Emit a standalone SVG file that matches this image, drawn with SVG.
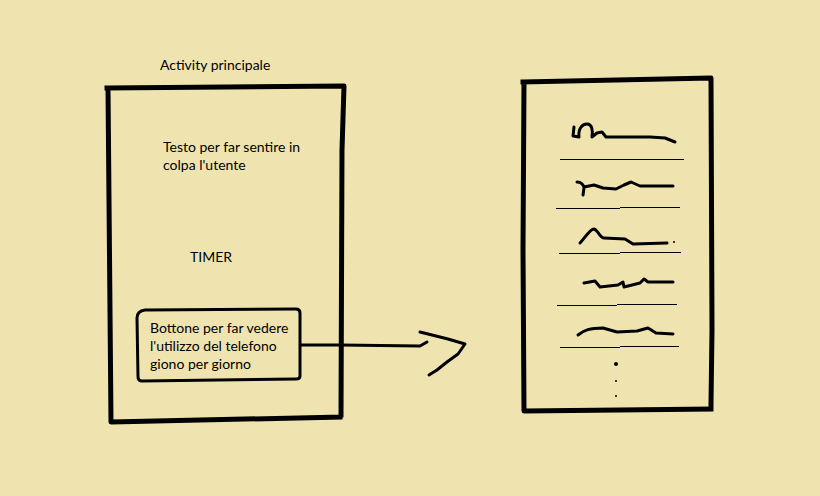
<svg xmlns="http://www.w3.org/2000/svg" width="820" height="496" viewBox="0 0 820 496">
<style>
.t{font-family:Lato,"Open Sans","Liberation Sans",sans-serif;font-size:14px;fill:#000}
.thick{fill:none;stroke:#000;stroke-width:5;stroke-linecap:square;stroke-linejoin:round}
.pen{fill:none;stroke:#000;stroke-width:3;stroke-linecap:round;stroke-linejoin:round}
.thin{fill:none;stroke:#000;stroke-width:1;shape-rendering:crispEdges}
</style>
<rect width="820" height="496" fill="#EFE4B0"/>
<g id="activity-principale">
<text class="t" x="160" y="70">Activity principale</text>
<path class="thick" d="M107,88 L344,86 L342,150 L341,415 M108,88 L109,200 L111,422 L340,417"/>
<text class="t" x="163" y="152">Testo per far sentire in</text>
<text class="t" x="163" y="170">colpa l'utente</text>
<text class="t" x="190" y="262">TIMER</text>
</g>
<g id="bottone">
<path class="pen" d="M145,310 L296,309 Q300,309 300,313 L300,376 Q300,379 296,379 L142,381 Q138,381 138,377 L137,318 Q137,311 145,310 Z"/>
<text class="t" x="150" y="333">Bottone per far vedere</text>
<text class="t" x="150" y="351">l'utilizzo del telefono</text>
<text class="t" x="150" y="369">giono per giorno</text>
</g>
<g id="lista">
<path class="thick" d="M523,82 L711,78 L712,330 L711,404 M524,82 L523,250 L524,411 L711,409"/>
<g class="thin">
<path d="M560,159.5 L684,159.5"/>
<path d="M556,208.5 L620,208.5 M620,207.5 L680,207.5"/>
<path d="M559,253.5 L620,253.5 M620,252.5 L681,252.5"/>
<path d="M557,305.5 L617,305.5 M617,304.5 L677,304.5"/>
<path d="M560,347.5 L620,347.5 M620,346.5 L679,346.5"/>
</g>
<g class="pen">
<path d="M574,127 L573,136 L579,137 C578,129 582,124 587,124 C592,124 593,130 592,137 L597,133 L602,132 L606,137 L650,137 L665,138 L675,142"/>
<path d="M577,182 C581,182 584,185 584,188 L583,195 M584,187 L594,185 L603,188 L616,189 L624,185 L631,182 L640,186 L673,186"/>
<path d="M580,243 C584,239 590,229 594,229 C598,230 600,238 604,238 L625,239 L633,244 L667,243"/>
<path d="M584,283 L595,281 L600,287 L618,285 L623,282 L624,287 L640,283 L644,279 L648,282 L673,282"/>
<path d="M578,335 C584,330 590,328 603,328 L617,332 L637,331 L648,328 L656,333 L673,334"/>
</g>
<circle cx="674" cy="242" r="1" fill="#000"/>
<circle cx="616" cy="364" r="2" fill="#000"/>
<circle cx="616" cy="381" r="1" fill="#000"/>
<circle cx="616" cy="396" r="1" fill="#000"/>
</g>
<g id="connectors">
<path class="pen" d="M301,345 L340,345 L420,346 L427,342"/>
<path class="pen" d="M420,332 L428,334 L448,339 L465,344 L458,354 L447,362 L437,370 L429,375"/>
</g>
</svg>
